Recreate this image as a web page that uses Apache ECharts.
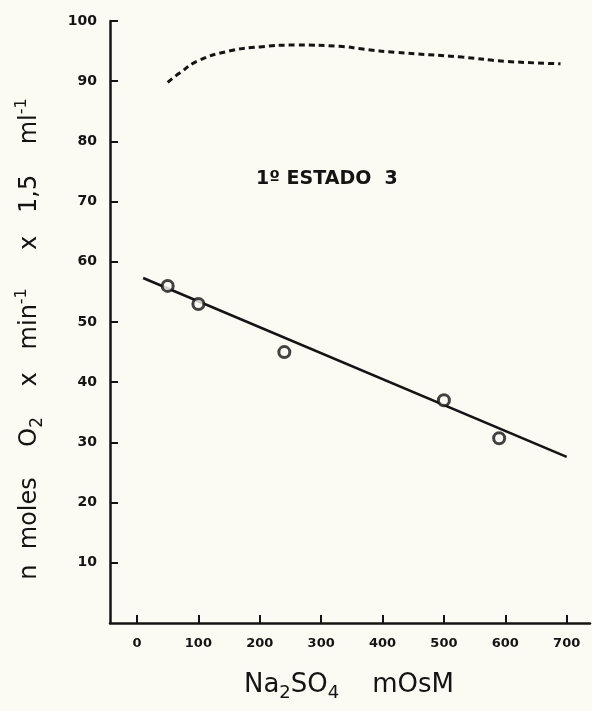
<!DOCTYPE html>
<html>
<head>
<meta charset="utf-8">
<script src="https://cdn.jsdelivr.net/npm/echarts@6/dist/echarts.min.js"></script>
<style>
html,body{margin:0;padding:0;background:#fbfaf3;}
#c{width:592px;height:711px;}
</style>
</head>
<body>
<div id="c"></div>
<script>
// Data
const xTicks = [0, 100, 200, 300, 400, 500, 600, 700];
const yTicks = [10, 20, 30, 40, 50, 60, 70, 80, 90, 100];
const pointsX = [50, 100, 240, 500, 590];
const pointsY = [56, 53, 45, 37, 30.7];
const fitX = [10, 700];
const fitY = [57.3, 27.6];
const curveX = [50, 70, 100, 150, 200, 260, 330, 370, 420, 530, 600, 690];
const curveY = [89.8, 91.4, 93.4, 95.0, 95.7, 96.0, 95.8, 95.3, 94.8, 94.0, 93.3, 92.9];
const annotation = '1º ESTADO  3';

const ink = '#141414';
const bg = '#fbfaf3';
const zip = (a, b) => a.map((v, i) => [v, b[i]]);

const chart = echarts.init(document.getElementById('c'));
chart.setOption({
  backgroundColor: bg,
  animation: false,
  title: {
    text: annotation,
    left: 251, top: 165,
    textStyle: {fontFamily: 'DejaVu Sans', fontWeight: 'bold', fontSize: 19, color: ink}
  },
  grid: {left: 110, right: 2, top: 21, bottom: 88},
  xAxis: {
    type: 'value', min: -44, max: 738,
    splitLine: {show: false},
    axisLine: {onZero: false, lineStyle: {color: ink, width: 2.5}},
    axisTick: {show: true, inside: true, length: 8, customValues: xTicks, lineStyle: {color: ink, width: 2}},
    axisLabel: {customValues: xTicks, margin: 14, color: ink, fontFamily: 'DejaVu Sans', fontWeight: 'bold', fontSize: 13},
    name: '{t|Na}{sub|2}{t|SO}{sub|4}{t|    mOsM}{pad| }',
    nameLocation: 'middle', nameGap: 45,
    nameTextStyle: {
      color: ink, fontFamily: 'DejaVu Sans', fontSize: 26,
      rich: {
        t: {fontFamily: 'DejaVu Sans', fontSize: 26, lineHeight: 34, color: ink},
        sub: {fontFamily: 'DejaVu Sans', fontSize: 18, lineHeight: 18, verticalAlign: 'bottom', color: ink},
        pad: {width: 2, fontSize: 10}
      }
    }
  },
  yAxis: {
    type: 'value', min: 0, max: 100,
    splitLine: {show: false},
    axisLine: {onZero: false, lineStyle: {color: ink, width: 2.5}},
    axisTick: {show: true, inside: true, length: 8, customValues: yTicks, lineStyle: {color: ink, width: 2}},
    axisLabel: {customValues: yTicks, margin: 13, color: ink, fontFamily: 'DejaVu Sans', fontWeight: 'bold', fontSize: 14},
    name: '{t|n  moles    O}{sub|2}{t|    x   min}{sup|-1}{t|     x   1,5    ml}{sup|-1}{pad| }',
    nameLocation: 'middle', nameGap: 64,
    nameTextStyle: {
      color: ink, fontFamily: 'DejaVu Sans', fontSize: 24,
      rich: {
        t: {fontFamily: 'DejaVu Sans', fontSize: 24, lineHeight: 32, color: ink},
        sub: {fontFamily: 'DejaVu Sans', fontSize: 17, lineHeight: 17, verticalAlign: 'bottom', color: ink},
        sup: {fontFamily: 'DejaVu Sans', fontSize: 16, lineHeight: 16, verticalAlign: 'top', color: ink},
        pad: {width: 34, fontSize: 10}
      }
    }
  },
  series: [
    {
      type: 'line', data: zip(fitX, fitY), symbol: 'none',
      lineStyle: {color: ink, width: 2.6}, z: 2
    },
    {
      type: 'scatter', data: zip(pointsX, pointsY), symbol: 'circle', symbolSize: 11,
      itemStyle: {color: bg, borderColor: ink, borderWidth: 3}, z: 3
    },
    {
      type: 'line', data: zip(curveX, curveY), symbol: 'none', smooth: true,
      lineStyle: {color: ink, width: 3, type: [6, 4]}, z: 2
    }
  ]
});
</script>
</body>
</html>
